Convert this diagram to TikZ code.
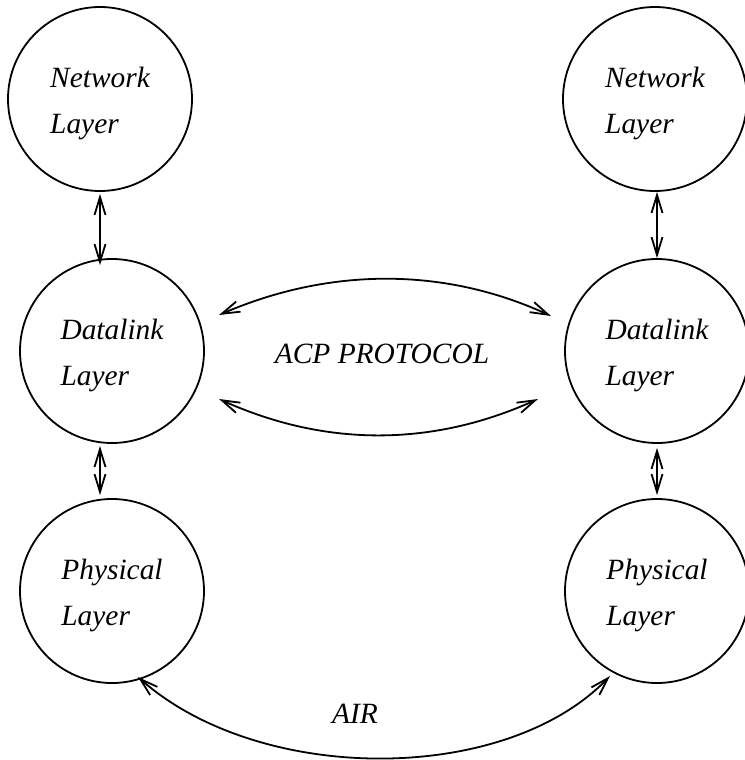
\documentclass[tikz,border=0pt]{standalone}
\usepackage{fontspec}
\setmainfont{Liberation Serif}
\usetikzlibrary{arrows.meta}
\newcommand{\firstline}{\rule{0pt}{15pt}}
\begin{document}
\begin{tikzpicture}[x=0.5pt,y=-0.5pt,
  labelfont/.style={font=\fontsize{14.7}{23}\selectfont\itshape},
  layer/.style={circle, draw, line width=0.9pt, minimum size=92pt,
    inner sep=0pt, align=left, labelfont},
  link/.style={line width=0.9pt,
    {Straight Barb[length=9pt,width=5.5pt]}-{Straight Barb[length=9pt,width=5.5pt]}},
  caption/.style={labelfont, inner sep=0pt}]
\useasboundingbox[fill=white] (0,0) rectangle (744,760);

% left protocol stack
\node[layer] (NL) at (100,99)  {\firstline Network\\Layer};
\node[layer] (DL) at (112,351) {\firstline Datalink\\Layer};
\node[layer] (PL) at (112,591) {\firstline Physical\\Layer};

% right protocol stack
\node[layer] (NR) at (655,99)  {\firstline Network\\Layer};
\node[layer] (DR) at (657,351) {\firstline Datalink\\Layer};
\node[layer] (PR) at (657,591) {\firstline Physical\\Layer};

% links between adjacent layers
\draw[link, shorten <=1pt, shorten >=-3.5pt] (NL.south) -- (NL.south |- DL.north);
\draw[link, shorten <=1pt, shorten >=1.5pt] (NL.south |- DL.south) -- (NL.south |- PL.north);
\draw[link] (DR.north |- NR.south) -- (DR.north);
\draw[link, shorten <=2pt, shorten >=1.5pt] (DR.south) -- (PR.north);

% peer-to-peer exchange between the datalink layers
\draw[link] ([shift={(107,-36)}]DL.center) .. controls +(111,-48) and +(-106,-49) .. ([shift={(-106,-35)}]DR.center);
\draw[link] ([shift={(107,48)}]DL.center) .. controls +(106,48) and +(-106,48) .. ([shift={(-119,48)}]DR.center);
\node[caption, anchor=base] (acp) at (382,363) {ACP PROTOCOL};

% transmission medium between the physical layers
\draw[link] ([shift={(26,86)}]PL.center) .. controls +(122,108) and +(-105,109) .. ([shift={(-47,85)}]PR.center);
\node[caption, anchor=base] (air) at (355,723) {AIR};
\end{tikzpicture}
\end{document}
